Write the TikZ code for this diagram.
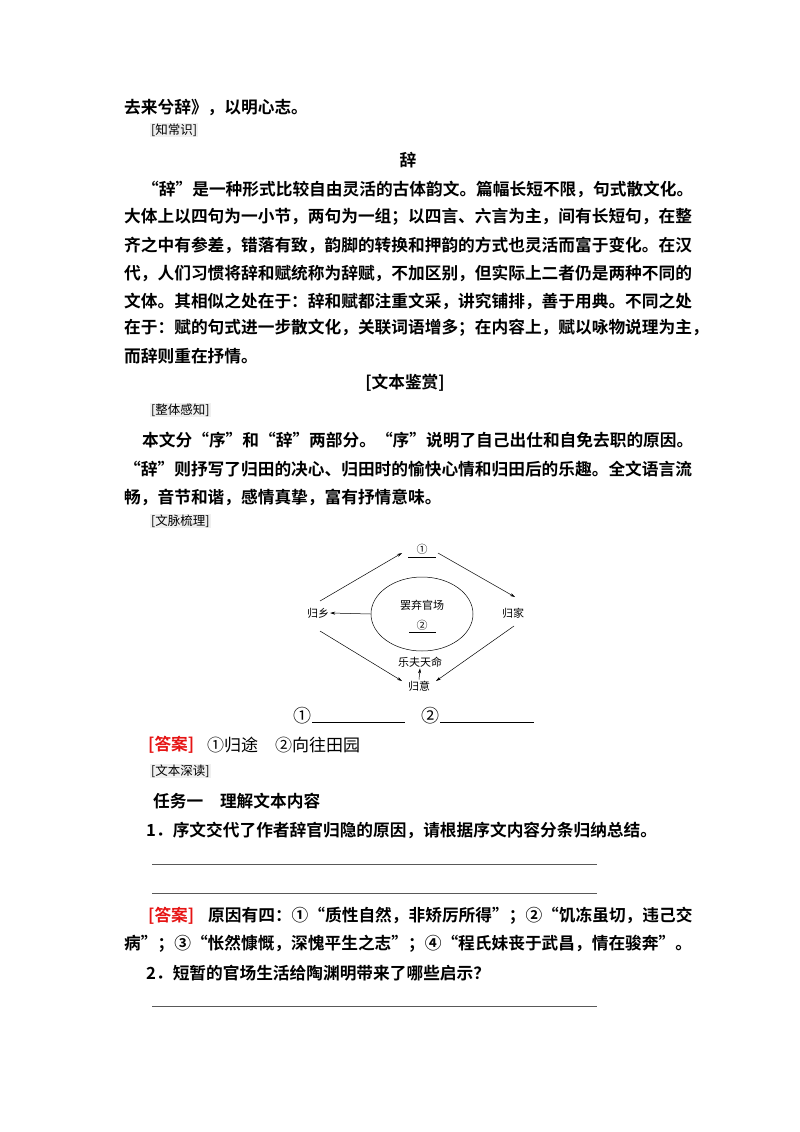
\documentclass[tikz,border=0pt]{standalone}
\usepackage{fontspec}
\setmainfont{Liberation Serif}
\newfontfamily\cjk{Noto Sans CJK SC}
\newfontfamily\cjkb{Noto Sans CJK SC Bold}
\usetikzlibrary{arrows.meta,shapes.geometric}
\definecolor{ansred}{RGB}{230,20,20}
\begin{document}
\begin{tikzpicture}[x=1pt,y=-1pt,
  t/.style={anchor=west,inner sep=0pt,font=\cjkb\fontsize{16.7}{18}\selectfont},
  lab/.style={anchor=west,inner sep=1pt,fill=gray!12,font=\cjk\fontsize{12.5}{14}\selectfont},
  d/.style={inner sep=1pt,font=\cjk\fontsize{11}{12}\selectfont},
  ar/.style={-{Stealth[length=5pt,width=3pt]},line width=0.5pt},
  ul/.style={line width=0.9pt}]
\useasboundingbox[fill=white] (0,0) rectangle (800,1132);
\node[t] (l1) at (124,107) {去来兮辞》，以明心志。};
\node[lab] (k1) at (150,130) {[知常识]};
\node[t,anchor=center] (h1) at (408,160) {辞};
\node[t] (p1) at (142,189) {“辞”是一种形式比较自由灵活的古体韵文。篇幅长短不限，句式散文化。};
\node[t] (p2) at (124,217) {大体上以四句为一小节，两句为一组；以四言、六言为主，间有长短句，在整};
\node[t] (p3) at (124,245) {齐之中有参差，错落有致，韵脚的转换和押韵的方式也灵活而富于变化。在汉};
\node[t] (p4) at (124,273) {代，人们习惯将辞和赋统称为辞赋，不加区别，但实际上二者仍是两种不同的};
\node[t] (p5) at (124,301) {文体。其相似之处在于：辞和赋都注重文采，讲究铺排，善于用典。不同之处};
\node[t] (p6) at (124,328) {在于：赋的句式进一步散文化，关联词语增多；在内容上，赋以咏物说理为主，};
\node[t] (p7) at (124,356) {而辞则重在抒情。};
\node[t,anchor=center] (h2) at (405,383) {[文本鉴赏]};
\node[lab] (k2) at (150,410) {[整体感知]};
\node[t] (q1) at (142,440) {本文分“序”和“辞”两部分。“序”说明了自己出仕和自免去职的原因。};
\node[t] (q2) at (124,469) {“辞”则抒写了归田的决心、归田时的愉快心情和归田后的乐趣。全文语言流};
\node[t] (q3) at (124,497) {畅，音节和谐，感情真挚，富有抒情意味。};
\node[lab] (k3) at (150,521) {[文脉梳理]};
% diagram
\node[d] (n1) at (422,549) {①};
\draw[line width=0.5pt] (408,557) -- (436,557);
\node[d] (gx) at (318,613) {归乡};
\node[d] (gj) at (513,613) {归家};
\node[draw,ellipse,minimum width=102pt,minimum height=74pt,line width=0.5pt] (el) at (422,614) {};
\node[d] (bq) at (422,605) {罢弃官场};
\node[d] (n2) at (422,625) {②};
\draw[line width=0.5pt] (409,632) -- (436,632);
\node[d] (lf) at (420,662) {乐夫天命};
\node[d] (gy) at (419,686) {归意};
\coordinate (c1) at (320,601); \coordinate (c2) at (402,553);
\coordinate (c3) at (438,553); \coordinate (c4) at (515,597);
\coordinate (c5) at (320,631); \coordinate (c6) at (402,681);
\coordinate (c7) at (514,626); \coordinate (c8) at (436,681);
\draw[ar] (c1) -- (c2);
\draw[ar] (c3) -- (c4);
\draw[ar] (el.west) -- (gx.east);
\draw[ar] (c5) -- (c6);
\draw[ar] (c7) -- (c8);
\draw[ar] (gy.north) -- (lf.south);
\node[t,font=\cjk\fontsize{18}{20}\selectfont] (b1) at (293,716) {①};
\draw[ul] (312,722) -- (405,722);
\node[t,font=\cjk\fontsize{18}{20}\selectfont] (b2) at (421,716) {②};
\draw[ul] (440,722) -- (534,722);
% answers
\node[t,text=ansred] (a1t) at (148,745) {[答案]};
\node[t,font=\cjk\fontsize{17}{20}\selectfont] (a1c) at (207,745) {①归途\quad ②向往田园};
\node[lab] (k4) at (150,771) {[文本深读]};
\node[t] (r1) at (153,801) {任务一\quad 理解文本内容};
\node[t] (r2) at (146,830) {1．序文交代了作者辞官归隐的原因，请根据序文内容分条归纳总结。};
\draw[ul,gray!70!black] (152,864) -- (597,864);
\draw[ul,gray!70!black] (152,893) -- (597,893);
\node[t,text=ansred] (a2t) at (148,916) {[答案]};
\node[t] (s1) at (208,916) {原因有四：①“质性自然，非矫厉所得”；②“饥冻虽切，违己交};
\node[t] (s2) at (124,944) {病”；③“怅然慷慨，深愧平生之志”；④“程氏妹丧于武昌，情在骏奔”。};
\node[t] (s3) at (146,973) {2．短暂的官场生活给陶渊明带来了哪些启示？};
\draw[ul,gray!70!black] (152,1006) -- (597,1006);
\end{tikzpicture}
\end{document}
